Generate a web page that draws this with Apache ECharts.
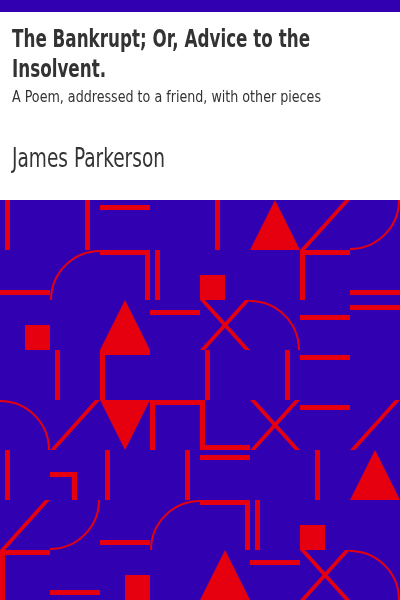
<!DOCTYPE html>
<html>
<head>
<meta charset="utf-8">
<script src="https://cdn.jsdelivr.net/npm/echarts@6/dist/echarts.min.js"></script>
<style>
html, body { margin: 0; padding: 0; background: #ffffff; }
#cover { width: 400px; height: 600px; }
</style>
</head>
<body>
<div id="cover"></div>
<script>
// cover texts
var titleLines = ['The Bankrupt; Or, Advice to the', 'Insolvent.'];
var subtitle = 'A Poem, addressed to a friend, with other pieces';
var author = 'James Parkerson';

// pattern, in pattern units: x 0..400 across, y 0..400 down
// straight bars [x1, y1, x2, y2] (centre line)
var bars = [
    [7.5, 0, 7.5, 50], [87.5, 0, 87.5, 50], [100, 7.5, 150, 7.5], [0, 92.5, 50, 92.5],
    [157.5, 50, 157.5, 100], [150, 112.5, 200, 112.5], [57.5, 150, 57.5, 200],
    [217.5, 0, 217.5, 50], [350, 92.5, 400, 92.5], [350, 107.5, 400, 107.5],
    [300, 117.5, 350, 117.5], [300, 157.5, 350, 157.5], [207.5, 150, 207.5, 200],
    [287.5, 150, 287.5, 200], [7.5, 250, 7.5, 300], [107.5, 250, 107.5, 300],
    [187.5, 250, 187.5, 300], [50, 392.5, 100, 392.5], [100, 342.5, 150, 342.5],
    [300, 207.5, 350, 207.5], [200, 257.5, 250, 257.5], [317.5, 250, 317.5, 300],
    [257.5, 300, 257.5, 350], [250, 362.5, 300, 362.5]
];
// corner pieces [x1, y1, x2, y2, x3, y3]
var corners = [
    [100, 52.5, 147.5, 52.5, 147.5, 100],
    [150, 152.5, 102.5, 152.5, 102.5, 200],
    [350, 52.5, 302.5, 52.5, 302.5, 100],
    [200, 202.5, 152.5, 202.5, 152.5, 250],
    [50, 274.5, 74.5, 274.5, 74.5, 300],
    [50, 352.5, 2.5, 352.5, 2.5, 400],
    [202.5, 200, 202.5, 247.5, 250, 247.5],
    [200, 302.5, 247.5, 302.5, 247.5, 350]
];
// slanted bars, corner to corner [x1, y1, x2, y2]
var diagonals = [
    [350, 0, 300, 50], [50, 250, 100, 200], [50, 300, 0, 350], [350, 250, 400, 200]
];
// crosses, top-left corner of the cell
var crosses = [[200, 100], [250, 200], [300, 350]];
// quarter circles [cx, cy, quarter]
var arcs = [
    [100, 100, 'tl'], [350, 0, 'br'], [250, 150, 'tr'], [0, 250, 'tr'],
    [50, 300, 'br'], [200, 350, 'tl'], [350, 400, 'tr']
];
var squares = [[37.5, 137.5], [212.5, 87.5], [137.5, 387.5], [312.5, 337.5]];
var trianglesUp = [[125, 125], [275, 25], [375, 275], [225, 375]];
var trianglesDown = [[125, 225]];

var PURPLE = '#3100b0';
var RED = '#e6000f';
var INK = '#333333';
var CELL = 50;
var FONT = '"DejaVu Sans Condensed", "DejaVu Sans", sans-serif';

var quarterAngles = {
    tl: [Math.PI, Math.PI * 1.5],
    tr: [Math.PI * 1.5, Math.PI * 2],
    br: [0, Math.PI * 0.5],
    bl: [Math.PI * 0.5, Math.PI]
};

// squeeze text to the width it has on the cover
var measureCtx = document.createElement('canvas').getContext('2d');
function fitScale(text, font, width) {
    measureCtx.font = font;
    return width / measureCtx.measureText(text).width;
}

var titleFont = 'bold 24px ' + FONT;
var subFont = '16px ' + FONT;
var authorFont = '27px ' + FONT;
var titleScale = fitScale(titleLines[0], titleFont, 298);
var subScale = fitScale(subtitle, subFont, 309);
var authorScale = fitScale(author, authorFont, 153);

function textItem(text, font, scale, y) {
    return {
        type: 'text',
        x: 12,
        y: y,
        scaleX: scale,
        silent: true,
        style: { text: text, font: font, fill: INK, align: 'left', verticalAlign: 'middle' }
    };
}

function renderPolyline(list) {
    return function (params, api) {
        var row = list[params.dataIndex];
        var pts = [];
        for (var i = 0; i + 1 < row.length; i += 2) {
            pts.push(api.coord([row[i], row[i + 1]]));
        }
        return {
            type: 'polyline',
            shape: { points: pts },
            style: { stroke: RED, lineWidth: 5, fill: 'none', lineCap: 'butt', lineJoin: 'miter' }
        };
    };
}

function slant(api, x1, y1, x2, y2) {
    var p1 = api.coord([x1, y1]);
    var p2 = api.coord([x2, y2]);
    var dir = p2[0] > p1[0] ? 1 : -1;
    return {
        type: 'polygon',
        shape: { points: [p1, [p1[0] + 5 * dir, p1[1]], p2, [p2[0] - 5 * dir, p2[1]]] },
        style: { fill: RED }
    };
}

var chart = echarts.init(document.getElementById('cover'));
chart.setOption({
    backgroundColor: '#ffffff',
    animation: false,
    grid: { left: 0, top: 200, width: 400, height: 400, show: true, backgroundColor: PURPLE, borderWidth: 0 },
    xAxis: { type: 'value', min: 0, max: 400, show: false },
    yAxis: { type: 'value', min: 0, max: 400, inverse: true, show: false },
    graphic: [
        { type: 'rect', left: 0, top: 0, silent: true, shape: { width: 400, height: 12 }, style: { fill: PURPLE } },
        textItem(titleLines[0], titleFont, titleScale, 41),
        textItem(titleLines[1], titleFont, titleScale, 71),
        textItem(subtitle, subFont, subScale, 98),
        textItem(author, authorFont, authorScale, 160)
    ],
    series: [
        {
            type: 'custom', silent: true, clip: true,
            data: bars,
            renderItem: renderPolyline(bars)
        },
        {
            type: 'custom', silent: true, clip: true,
            data: corners,
            renderItem: renderPolyline(corners)
        },
        {
            type: 'custom', silent: true, clip: true,
            data: diagonals,
            renderItem: function (params, api) {
                var d = diagonals[params.dataIndex];
                return slant(api, d[0], d[1], d[2], d[3]);
            }
        },
        {
            type: 'custom', silent: true, clip: true,
            data: crosses,
            renderItem: function (params, api) {
                var c = crosses[params.dataIndex];
                return {
                    type: 'group',
                    children: [
                        slant(api, c[0], c[1], c[0] + CELL, c[1] + CELL),
                        slant(api, c[0] + CELL, c[1], c[0], c[1] + CELL)
                    ]
                };
            }
        },
        {
            type: 'custom', silent: true, clip: true,
            data: arcs.map(function (a) { return [a[0], a[1]]; }),
            renderItem: function (params, api) {
                var a = arcs[params.dataIndex];
                var c = api.coord([a[0], a[1]]);
                var r = api.size([CELL, CELL])[0];
                var ang = quarterAngles[a[2]];
                return {
                    type: 'arc',
                    shape: { cx: c[0], cy: c[1], r: r - 1, startAngle: ang[0], endAngle: ang[1], clockwise: true },
                    style: { stroke: RED, lineWidth: 2, fill: 'none' }
                };
            }
        },
        {
            type: 'scatter', silent: true,
            data: squares, symbol: 'rect', symbolSize: 25,
            itemStyle: { color: RED, opacity: 1 }
        },
        {
            type: 'scatter', silent: true,
            data: trianglesUp, symbol: 'triangle', symbolSize: 50,
            itemStyle: { color: RED, opacity: 1 }
        },
        {
            type: 'scatter', silent: true,
            data: trianglesDown, symbol: 'triangle', symbolSize: 50, symbolRotate: 180,
            itemStyle: { color: RED, opacity: 1 }
        }
    ]
});
</script>
</body>
</html>
